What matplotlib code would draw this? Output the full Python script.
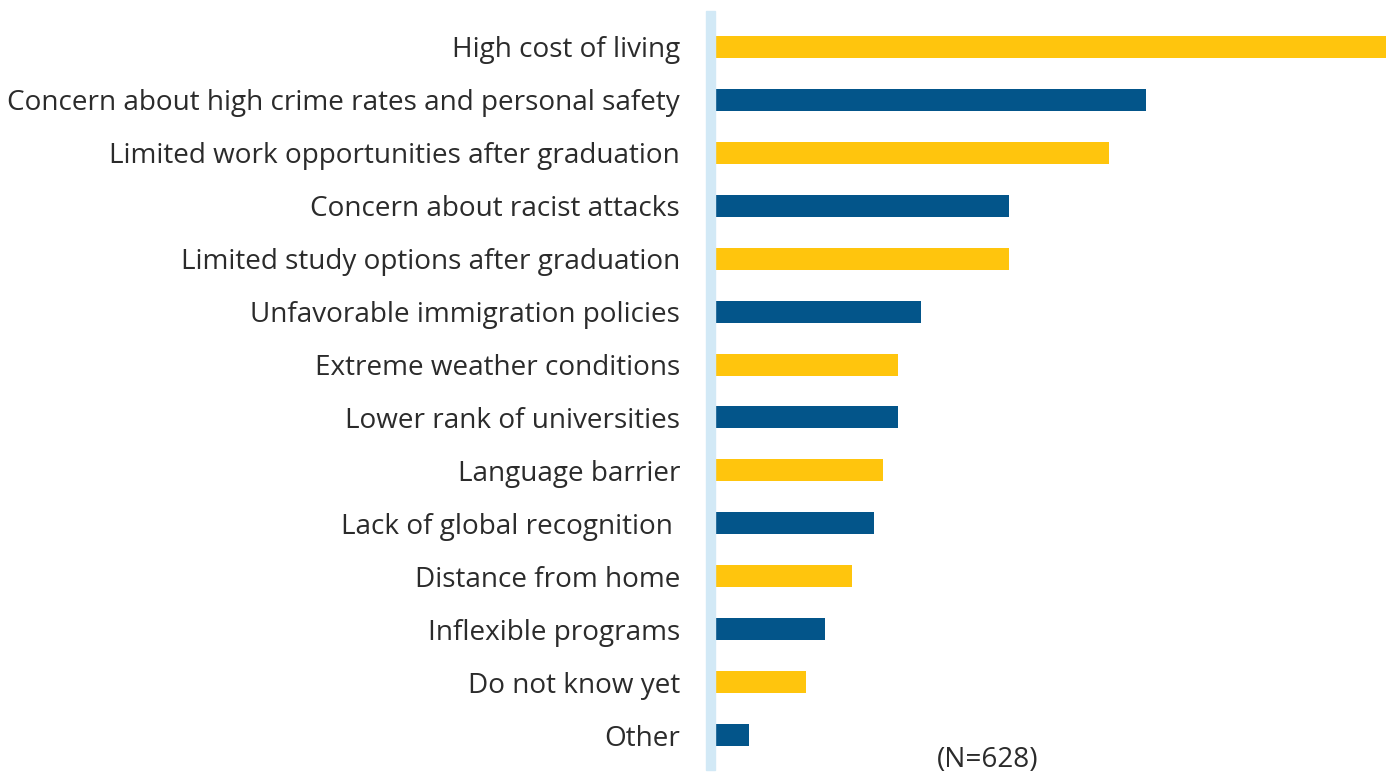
import matplotlib
matplotlib.use("Agg")
import matplotlib.pyplot as plt
from matplotlib.patches import Rectangle

categories = [
    "High cost of living",
    "Concern about high crime rates and personal safety",
    "Limited work opportunities after graduation",
    "Concern about racist attacks",
    "Limited study options after graduation",
    "Unfavorable immigration policies",
    "Extreme weather conditions",
    "Lower rank of universities",
    "Language barrier",
    "Lack of global recognition ",
    "Distance from home",
    "Inflexible programs",
    "Do not know yet",
    "Other",
]
values = [67.1, 43.1, 39.4, 29.4, 29.4, 20.6, 18.3, 18.3, 16.8, 15.9, 13.7, 11.0, 9.1, 3.4]
note = "(N=628)"

YELLOW = "#FFC50D"
BLUE = "#03558A"
colors = [YELLOW if i % 2 == 0 else BLUE for i in range(len(values))]

W, H = 1394, 773
fig = plt.figure(figsize=(W / 100, H / 100), dpi=100)
left, right = 715 / W, 1386 / W
top, bottom = 1 - 20.5 / H, 1 - 761.5 / H
ax = fig.add_axes([left, bottom, right - left, top - bottom])

y = list(range(len(values)))
ax.barh(y, values, height=22 / 52.9, color=colors)
ax.set_xlim(0, max(values))
ax.set_ylim(len(values) - 0.5, -0.5)
ax.set_yticks(y)
ax.set_yticklabels(categories, fontsize=20.1, color="#2b2b2b", family="Open Sans")
ax.tick_params(axis="y", length=0, pad=25.2)
ax.set_xticks([])
for s in ax.spines.values():
    s.set_visible(False)

fig.patches.append(Rectangle((706 / W, 1 - 770 / H), 9 / W, 759 / H,
                             transform=fig.transFigure, color="#D2E9F6", zorder=0))
fig.text(988 / W, 1 - 760 / H, note, ha="center", va="center", fontsize=20.1,
         color="#2b2b2b", family="Open Sans")

fig.savefig("out.png", dpi=100)
